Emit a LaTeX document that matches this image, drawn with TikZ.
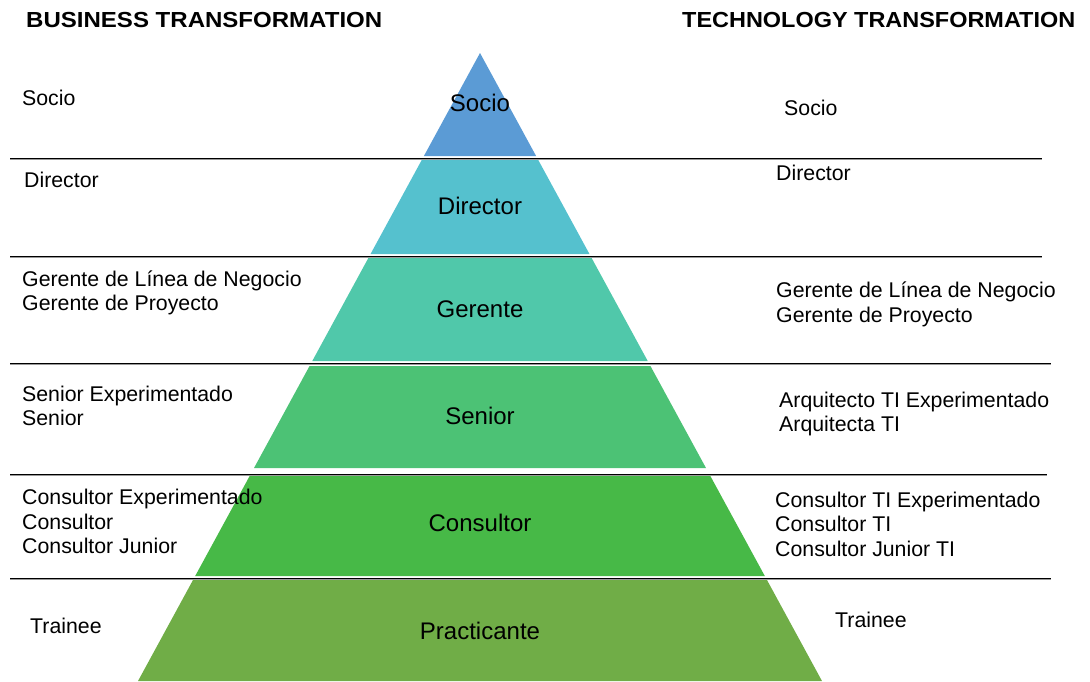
\documentclass[tikz,border=0pt]{standalone}
\usepackage{fontspec}
\setmainfont{Liberation Sans}
\definecolor{cSocio}{HTML}{5B9BD5}
\definecolor{cDirector}{HTML}{55C1CE}
\definecolor{cGerente}{HTML}{50C8AA}
\definecolor{cSenior}{HTML}{4CC275}
\definecolor{cConsultor}{HTML}{47B947}
\definecolor{cPracticante}{HTML}{70AD47}
\begin{document}
\begin{tikzpicture}[x=1pt,y=-1pt,
  role/.style={anchor=west,inner sep=0pt,font=\fontsize{21.3}{24}\selectfont,
    text height=15.3pt,text depth=0pt},
  tier/.style={inner sep=0pt,font=\fontsize{24}{28}\selectfont,
    text height=17.2pt,text depth=0pt},
  heading/.style={anchor=west,inner sep=0pt},
  divider/.style={line width=1pt,black},
  divshade/.style={line width=1pt,black!40}
]
\useasboundingbox (0,0) rectangle (1090,681);

% pyramid bands: top, bottom, colour, label, node name, label centre
% half width grows by 342/628 per unit of height below the apex (480,53)
\foreach \t/\b/\c/\lab/\nm/\ly in {
  53/156/cSocio/Socio/tSocio/103,
  159/254/cDirector/Director/tDirector/206,
  258/361/cGerente/Gerente/tGerente/309,
  366/468/cSenior/Senior/tSenior/416,
  475/576/cConsultor/Consultor/tConsultor/523,
  579/681/cPracticante/Practicante/tPracticante/631}{
  \pgfmathsetmacro\wt{(342/628)*(\t-53)}
  \pgfmathsetmacro\wb{(342/628)*(\b-53)}
  \fill[\c] (480-\wt,\t) -- (480+\wt,\t) -- (480+\wb,\b) -- (480-\wb,\b) -- cycle;
  \node[tier] (\nm) at (480,\ly) {\lab};
}

% horizontal dividers: y, right end
\foreach \y/\r in {158/1042, 256/1042, 363/1051, 474.5/1047, 578/1051}{
  \draw[divshade] (10,\y+1) -- (\r,\y+1);
  \draw[divider] (10,\y) -- (\r,\y);
}

% column headings
\node[heading] (hBusiness) at (26,20)
  {\resizebox{356pt}{15.2pt}{\bfseries BUSINESS TRANSFORMATION}};
\node[heading] (hTech) at (682,20)
  {\resizebox{393pt}{15.2pt}{\bfseries TECHNOLOGY TRANSFORMATION}};

% business roles
\node[role] (b1)  at (22,98)  {Socio};
\node[role] (b2)  at (24,180) {Director};
\node[role] (b3)  at (22,279) {Gerente de Línea de Negocio};
\node[role] (b4)  at (22,303) {Gerente de Proyecto};
\node[role] (b5)  at (22,394) {Senior Experimentado};
\node[role] (b6)  at (22,418) {Senior};
\node[role] (b7)  at (22,497) {Consultor Experimentado};
\node[role] (b8)  at (22,522) {Consultor};
\node[role] (b9)  at (22,546) {Consultor Junior};
\node[role] (b10) at (30,626) {Trainee};

% technology roles
\node[role] (k1)  at (784,108) {Socio};
\node[role] (k2)  at (776,173) {Director};
\node[role] (k3)  at (776,290) {Gerente de Línea de Negocio};
\node[role] (k4)  at (776,315) {Gerente de Proyecto};
\node[role] (k5)  at (779,400) {Arquitecto TI Experimentado};
\node[role] (k6)  at (779,424) {Arquitecta TI};
\node[role] (k7)  at (775,500) {Consultor TI Experimentado};
\node[role] (k8)  at (775,524) {Consultor TI};
\node[role] (k9)  at (775,549) {Consultor Junior TI};
\node[role] (k10) at (835,620) {Trainee};
\end{tikzpicture}
\end{document}
